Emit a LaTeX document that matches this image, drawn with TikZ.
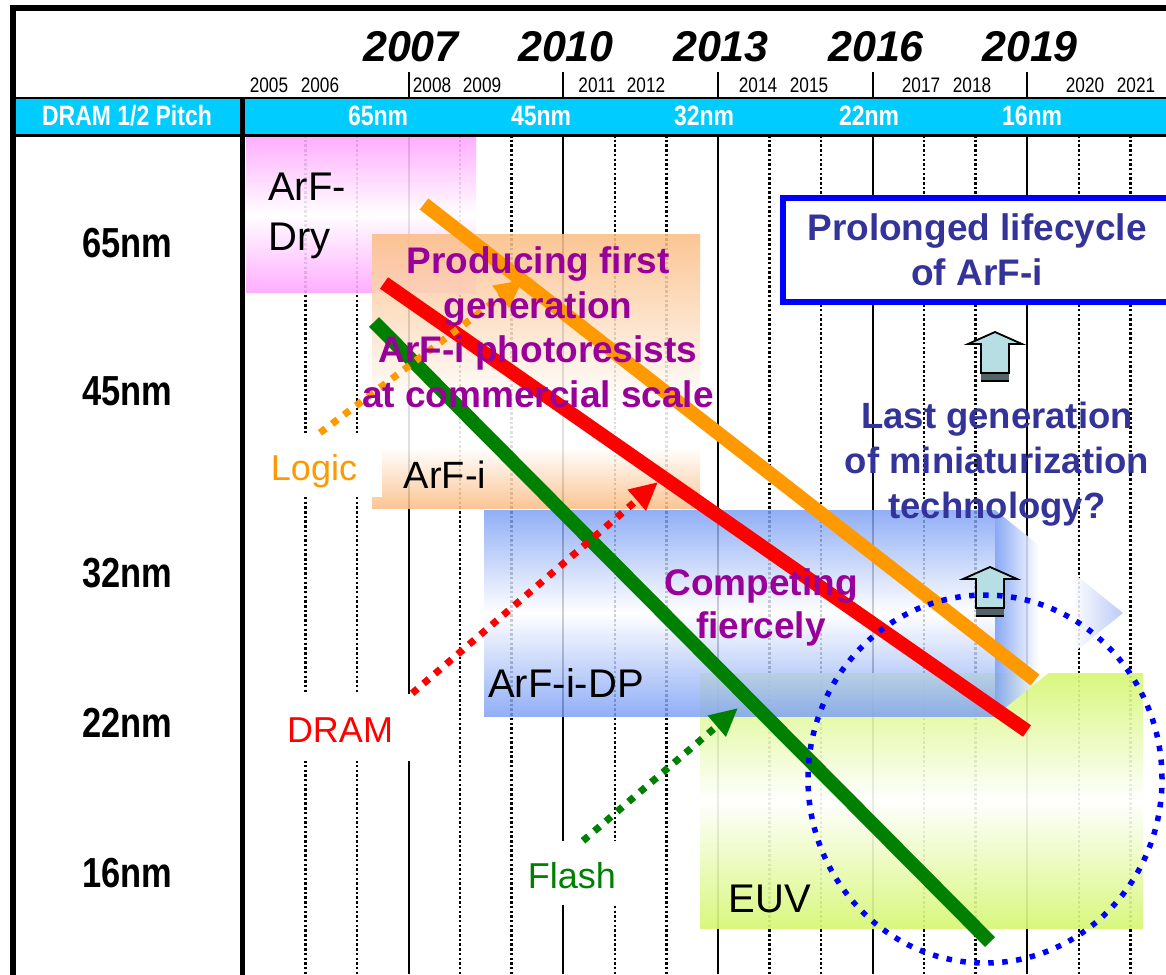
\documentclass[tikz,border=0pt]{standalone}
\usepackage{fontspec}
\setmainfont{Liberation Sans}
\newfontfamily\narrowfont[FakeStretch=0.82]{Liberation Sans}
\usetikzlibrary{arrows.meta}

\definecolor{bandcyan}{HTML}{00CCFF}
\definecolor{dryPink}{HTML}{FFA6FF}
\definecolor{arfOrange}{HTML}{FBBE86}
\definecolor{dpBlue}{HTML}{7A9EF5}
\definecolor{dpLight}{HTML}{B3C4F7}
\definecolor{euvGreen}{HTML}{D6F774}
\definecolor{msgPurple}{HTML}{990099}
\definecolor{msgNavy}{HTML}{333399}
\definecolor{logicOrange}{HTML}{FF9900}
\definecolor{flashGreen}{HTML}{008000}
\definecolor{upCyan}{HTML}{B7DEE2}

\pgfdeclareverticalshading{arfishade}{100bp}{color(0bp)=(arfOrange); color(25bp)=(arfOrange); color(36bp)=(white); color(44bp)=(white); color(75bp)=(arfOrange); color(100bp)=(arfOrange)}
\pgfdeclarehorizontalshading{dphead}{100bp}{color(0bp)=(dpBlue); color(25bp)=(dpBlue); color(42bp)=(white); color(55bp)=(white); color(75bp)=(dpLight); color(100bp)=(dpLight)}

\tikzset{
  gridsolid/.style={line width=2pt},
  griddot/.style={line width=2.5pt, dash pattern=on 2.5pt off 2.2pt},
  trend/.style={line width=14pt},
  pointer/.style={line width=7pt, dash pattern=on 7pt off 8pt, -{Triangle[length=28pt,width=26pt]}},
  tag/.style={fill=white, inner sep=0pt, text height=30pt, text depth=0pt, font=\fontsize{36}{40}\selectfont},
  bigyear/.style={anchor=base, inner sep=0pt, font=\fontsize{43}{48}\selectfont\bfseries\itshape},
  smallyear/.style={anchor=base, inner sep=0pt, font=\narrowfont\fontsize{21}{24}\selectfont},
  pitch/.style={anchor=base, inner sep=0pt, font=\narrowfont\fontsize{42}{48}\selectfont\bfseries},
  bandtext/.style={anchor=base, inner sep=0pt, text=white, font=\narrowfont\fontsize{28}{32}\selectfont\bfseries},
  tech/.style={anchor=base, inner sep=0pt, font=\fontsize{40}{50}\selectfont},
  remark/.style={anchor=base, inner sep=0pt, align=center, font=\fontsize{37}{45}\selectfont\bfseries},
  upblock/.style={fill=upCyan, draw=black, line width=1.8pt},
}

\newcommand{\upmark}[1]{%
  \begin{scope}[shift={#1}]
    \filldraw[upblock] (0,0) -- (27,12) -- (14,12) -- (14,41) -- (-14,41) -- (-14,12) -- (-27,12) -- cycle;
    \fill[upCyan!45!black] (-14,41) rectangle (14,49);
    \draw[line width=1.5pt] (-14,41) -- (14,41) (-14,49) -- (14,49);
  \end{scope}}

\begin{document}
\begin{tikzpicture}[x=1pt,y=-1pt]
\useasboundingbox (0,0) rectangle (1166,974);
\clip (0,0) rectangle (1166,974);
\fill[white] (0,0) rectangle (1166,974);

% grid of years
\foreach \k in {0,...,16}{
  \pgfmathsetmacro{\gx}{305.5+51.55*\k}
  \pgfmathtruncatemacro{\kind}{mod(\k,3)}
  \ifnum\kind=2
    \draw[gridsolid] (\gx,72) -- (\gx,98);
    \draw[gridsolid] (\gx,135) -- (\gx,974);
  \else
    \draw[griddot] (\gx,135) -- (\gx,974);
  \fi
}

% header
\fill[bandcyan] (13,98) rectangle (1180,135);
\draw[line width=2pt] (13,98) -- (1180,98);
\draw[line width=3pt] (13,135) -- (1180,135);
\draw[line width=5pt] (242,98) -- (242,980);
\draw[line width=6pt] (13,980) -- (13,8) -- (1180,8);

\foreach \yr/\x in {2007/411,2010/566,2013/721,2016/876,2019/1030}
  \node[bigyear] (y\yr) at (\x,61) {\yr};
\foreach \yr/\x in {2005/269,2006/320,2008/432,2009/482,2011/597,2012/646,2014/758,2015/809,2017/921,2018/972,2020/1085,2021/1136}
  \node[smallyear] (s\yr) at (\x,92) {\yr};

\node[bandtext] (pitchhead) at (127,125) {DRAM 1/2 Pitch};
\foreach \nm/\x in {65/378,45/541,32/704,22/869,16/1032}
  \node[bandtext] (b\nm) at (\x,125) {\nm nm};
\foreach \nm/\y in {65/257,45/405,32/587,22/737,16/887}
  \node[pitch] (p\nm) at (127,\y) {\nm nm};

% exposure technologies
\shade[top color=dryPink, bottom color=dryPink, middle color=white, fill opacity=0.9] (246,137) rectangle (476,292);
\shade[shading=arfishade, fill opacity=0.88] (372,234) rectangle (700,508);
\shade[top color=euvGreen, bottom color=euvGreen, middle color=white, fill opacity=0.92] (700,673) rectangle (1143,928);
\shade[top color=dpBlue, bottom color=dpBlue, middle color=white, fill opacity=0.82] (484,510) rectangle (995,716);
\shade[shading=dphead, fill opacity=0.88] (995,510) -- (1123,613) -- (995,716) -- cycle;

% roadmaps
\draw[trend, logicOrange] (424,204) -- (1035,680);
\draw[trend, red] (384,283) -- (1027,731);
\draw[trend, flashGreen] (374,322) -- (990,942);

% devices
\node[tag, text=logicOrange, minimum width=136pt, minimum height=64pt] (logic) at (314,465) {Logic};
\node[tag, text=red, minimum width=144pt, minimum height=67pt] (dram) at (340,727) {DRAM};
\node[tag, text=flashGreen, minimum width=110pt, minimum height=64pt] (flash) at (572,873) {Flash};

\coordinate (logictip) at (523,280);
\coordinate (dramtip) at (658,482);
\coordinate (flashtip) at (738,708);
\draw[pointer, logicOrange] ([xshift=6pt]logic.north) -- (logictip);
\draw[pointer, red] (dram.north east) -- (dramtip);
\draw[pointer, flashGreen] ([xshift=11pt]flash.north) -- (flashtip);

\node[tech, anchor=base west, align=left] (dry) at (268,250) {ArF-\\Dry};
\node[tech, font=\fontsize{38}{44}\selectfont] (arfi) at (445,488) {ArF-i};
\node[tech] (arfidp) at (566,697) {ArF-i-DP};
\node[tech] (euv) at (770,912) {EUV};

% messages
\node[remark, text=msgPurple, font=\fontsize{37}{44.5}\selectfont\bfseries] (produce) at (538,407) {Producing first\\generation\\ArF-i photoresists\\at commercial scale};
\node[remark, text=msgPurple, font=\fontsize{37}{43}\selectfont\bfseries] (compete) at (761,638) {Competing\\fiercely};

\draw[blue, line width=6pt, fill=white] (783,198) rectangle (1185,302);
\node[remark, text=msgNavy] (prolong) at (977,285) {Prolonged lifecycle\\of ArF-i};
\node[remark, text=msgNavy, font=\fontsize{36.5}{45}\selectfont\bfseries] (lastgen) at (997,518) {Last generation\\of miniaturization\\technology?};

\upmark{(995,332)}
\upmark{(990,567)}

\draw[blue, line width=5.5pt, dash pattern=on 5.5pt off 8.5pt] (985,779) ellipse [x radius=177pt, y radius=184pt];
\end{tikzpicture}
\end{document}
